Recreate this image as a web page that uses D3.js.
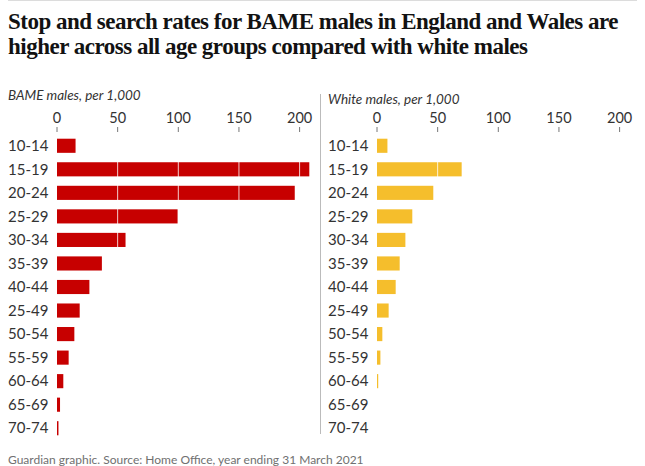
<!DOCTYPE html>
<html>
<head>
<meta charset="utf-8">
<script src="https://cdn.jsdelivr.net/npm/d3@7"></script>
<style>
  body { margin: 0; background: #fff; }
  .canvas { width: 645px; height: 466px; }
  text { font-family: Lato, "Open Sans", sans-serif; }
</style>
</head>
<body>
<div class="canvas"></div>
<script>
// data
const ageGroups = ['10-14','15-19','20-24','25-29','30-34','35-39','40-44','25-49','50-54','55-59','60-64','65-69','70-74'];
const bameRates = [15.3, 208, 196, 99.5, 56.5, 37, 26.7, 18.7, 14.3, 9.6, 5.2, 2.5, 1.2];
const whiteRates = [8.6, 69.8, 46.4, 29.1, 23.4, 18.7, 15.4, 9.6, 4.4, 2.8, 1, 0, 0];
const tickValues = [0, 50, 100, 150, 200];

const svg = d3.select('.canvas')
    .append('svg')
        .attr('width', 645)
        .attr('height', 466);

// top rule
svg.append('line')
    .attr('x1', 8).attr('x2', 637)
    .attr('y1', 0.5).attr('y2', 0.5)
    .attr('stroke', '#dcdcdc');

// title
const title = svg.append('text')
    .attr('x', 8)
    .attr('fill', '#121212')
    .style('font-family', '"Liberation Serif", serif')
    .style('font-weight', 'bold')
    .style('font-size', '23px')
    .style('letter-spacing', '-0.5px');
title.append('tspan').attr('x', 8).attr('y', 29)
    .text('Stop and search rates for BAME males in England and Wales are');
title.append('tspan').attr('x', 8).attr('y', 54)
    .text('higher across all age groups compared with white males');

const x = d3.scaleLinear()
    .domain([0, 200])
    .range([0, 242.6]);

const y = d3.scaleBand()
    .domain(ageGroups)
    .range([134, 440])
    .paddingInner(0.4)
    .paddingOuter(0.2);

const panel = (offset, labelY, label, values, colour) => {
    const g = svg.append('g')
        .attr('transform', `translate(${offset},0)`);

    g.append('text')
        .attr('x', 8)
        .attr('y', labelY)
        .attr('fill', '#333')
        .style('font-size', '13.5px')
        .style('font-style', 'italic')
        .text(label);

    const plot = g.append('g')
        .attr('transform', 'translate(57,0)');

    // ticks
    plot.selectAll('.tick-label')
        .data(tickValues)
        .enter()
        .append('text')
            .attr('x', d => x(d))
            .attr('y', 123)
            .attr('text-anchor', 'middle')
            .attr('fill', '#333')
            .style('font-size', '14.5px')
            .text(d => d);

    plot.selectAll('.tick-mark')
        .data(tickValues)
        .enter()
        .append('line')
            .attr('x1', d => x(d)).attr('x2', d => x(d))
            .attr('y1', 127).attr('y2', 132)
            .attr('stroke', '#777');

    // category labels
    g.selectAll('.cat')
        .data(ageGroups)
        .enter()
        .append('text')
            .attr('x', 8)
            .attr('y', d => y(d) + y.bandwidth() / 2)
            .attr('dy', '0.35em')
            .attr('fill', '#333')
            .style('font-size', '15px')
            .text(d => d);

    // bars
    plot.selectAll('rect')
        .data(values)
        .enter()
        .append('rect')
            .attr('x', 0)
            .attr('y', (d, i) => y(ageGroups[i]))
            .attr('width', d => x(d))
            .attr('height', y.bandwidth())
            .attr('fill', colour);

    // white gridlines over bars
    plot.selectAll('.grid')
        .data(tickValues.slice(1))
        .enter()
        .append('line')
            .attr('x1', d => x(d)).attr('x2', d => x(d))
            .attr('y1', y.range()[0]).attr('y2', y.range()[1])
            .attr('stroke', '#fff')
            .attr('stroke-width', 1)
            .attr('opacity', 0.8);
};

panel(0, 100, 'BAME males, per 1,000', bameRates, '#c70000');
panel(320, 104, 'White males, per 1,000', whiteRates, '#f5be2c');

// divider
svg.append('line')
    .attr('x1', 320.5).attr('x2', 320.5)
    .attr('y1', 94).attr('y2', 434)
    .attr('stroke', '#bbb');

// footer
svg.append('text')
    .attr('x', 8)
    .attr('y', 464)
    .attr('fill', '#707070')
    .style('font-size', '12px')
    .text('Guardian graphic. Source: Home Office, year ending 31 March 2021');
</script>
</body>
</html>
